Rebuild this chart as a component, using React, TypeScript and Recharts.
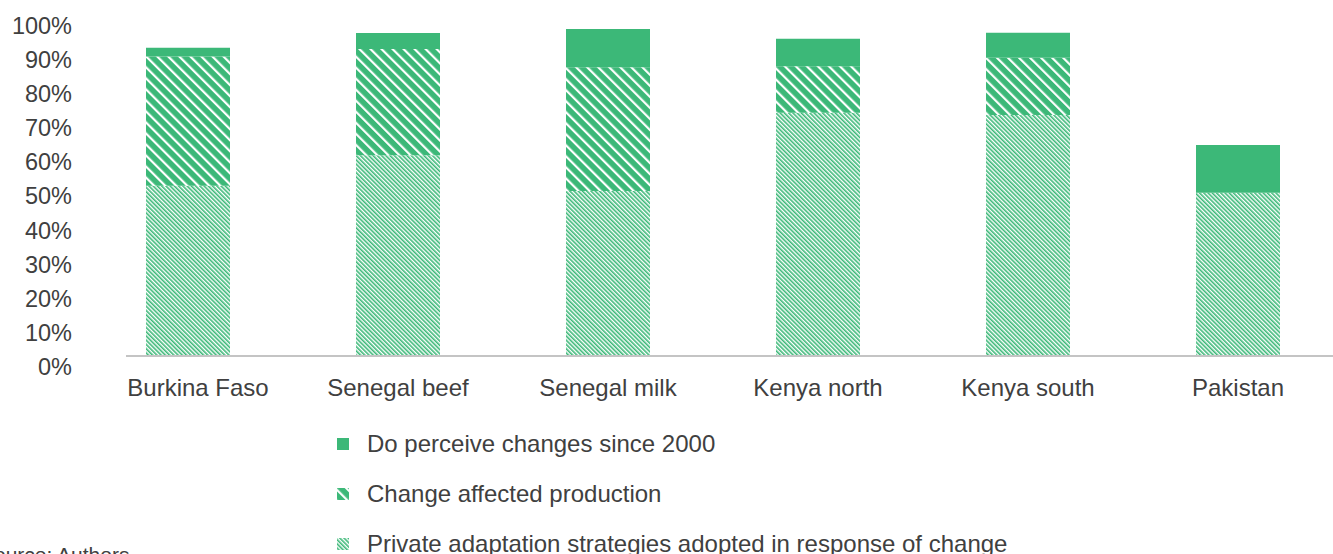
import React from "react";
import { BarChart, Bar, XAxis, YAxis } from "recharts";

// values (cumulative share of respondents, %)
const categories = ["Burkina Faso", "Senegal beef", "Senegal milk", "Kenya north", "Kenya south", "Pakistan"];
const perceived = [90.4, 94.7, 95.9, 93.0, 94.8, 61.9];
const affected = [87.8, 90.0, 84.7, 85.0, 87.5, 47.9];
const adapted = [49.9, 58.9, 48.4, 71.3, 70.7, 47.9];
const yTicks = [0, 10, 20, 30, 40, 50, 60, 70, 80, 90, 100];

const seriesNames = [
  "Do perceive changes since 2000",
  "Change affected production",
  "Private adaptation strategies adopted in response of change",
];

const GREEN = "#3cb878";
const TEXT = "#404040";
const FONT = "'Liberation Sans', Arial, sans-serif";

const data = categories.map((name, i) => ({
  name,
  adapted: adapted[i],
  affected: affected[i] - adapted[i],
  perceived: perceived[i] - affected[i],
}));

const YTick = (props: any) => {
  const { y, payload } = props;
  return (
    <text x={72} y={y + 10.5} dy="0.36em" textAnchor="end" fill={TEXT} fontSize={23.5} fontFamily={FONT}>
      {payload.value}%
    </text>
  );
};

const XTick = (props: any) => {
  const { x, payload, index } = props;
  // first label sits a little right of its bar in the original
  const dx = index === 0 ? 10 : 0;
  return (
    <text x={x + dx} y={387.5} dy="0.36em" textAnchor="middle" fill={TEXT} fontSize={24} fontFamily={FONT}>
      {payload.value}
    </text>
  );
};

const legendIcons = ["solid", "wide", "fine"];

export default function App() {
  return (
    <div style={{ position: "fixed", width: 1333, height: 554, left: 0, top: 0, overflow: "hidden", background: "#fff" }}>
      <svg width={1333} height={554} style={{ position: "absolute", left: 0, top: 0, pointerEvents: "none" }}>
        <defs>
          <pattern id="wideHatch" patternUnits="userSpaceOnUse" width={7.8} height={7.8} patternTransform="rotate(-45)">
            <rect width={7.8} height={7.8} fill={GREEN} />
            <rect width={2.2} height={7.8} fill="#ffffff" />
          </pattern>
          <pattern id="fineHatch" patternUnits="userSpaceOnUse" width={3} height={3} patternTransform="rotate(-45)">
            <rect width={3} height={3} fill="#ffffff" />
            <rect width={1.6} height={3} fill={GREEN} />
          </pattern>
        </defs>
        {seriesNames.map((s, i) => {
          const cy = 443 + i * 50;
          const icon = legendIcons[i];
          const fill = icon === "solid" ? GREEN : icon === "wide" ? "url(#wideHatch)" : "url(#fineHatch)";
          return (
            <g key={s}>
              <rect x={337} y={cy - 5} width={12} height={12} fill={fill} />
              <text x={367} y={cy} dy="0.36em" fill={TEXT} fontSize={24} fontFamily={FONT}>
                {s}
              </text>
            </g>
          );
        })}
        <text x={-20} y={562} fill={TEXT} fontSize={21} fontFamily={FONT}>
          Source: Authors
        </text>
      </svg>
      <div style={{ position: "absolute", left: 0, top: 0 }}>
        <BarChart width={1333} height={420} data={data} margin={{ top: 15, right: 0, bottom: 0, left: 0 }} barSize={84}>
          <XAxis
            dataKey="name"
            axisLine={{ stroke: "#c4c4c4", strokeWidth: 2 }}
            tickLine={false}
            tick={<XTick />}
            height={64}
            padding={{ left: -43, right: -10 }}
            interval={0}
          />
          <YAxis
            domain={[0, 100]}
            ticks={yTicks}
            axisLine={false}
            tickLine={false}
            tick={<YTick />}
            width={126}
            interval={0}
          />
          <Bar dataKey="adapted" stackId="a" fill="url(#fineHatch)" isAnimationActive={false} />
          <Bar dataKey="affected" stackId="a" fill="url(#wideHatch)" isAnimationActive={false} />
          <Bar dataKey="perceived" stackId="a" fill={GREEN} isAnimationActive={false} />
        </BarChart>
      </div>
    </div>
  );
}
